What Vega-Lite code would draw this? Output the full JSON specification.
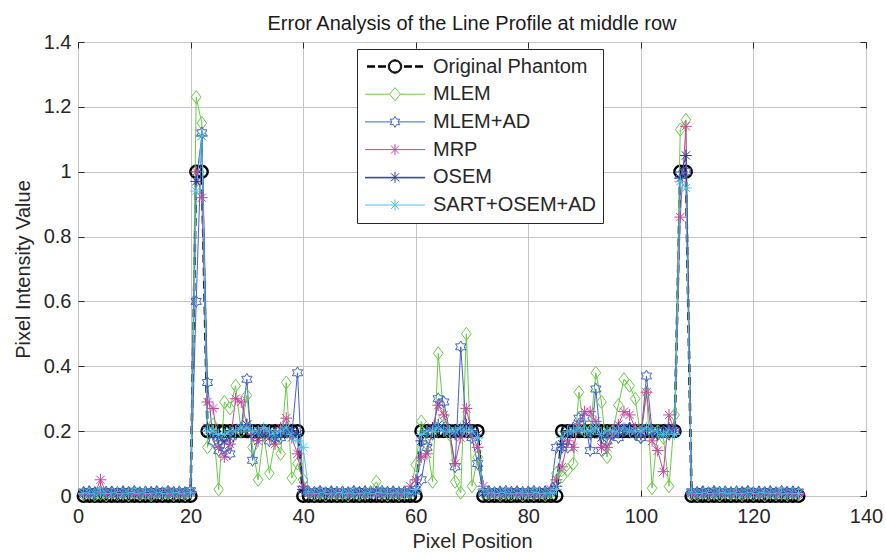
{
  "$schema": "https://vega.github.io/schema/vega-lite/v6.json",
  "width": 788,
  "height": 454,
  "autosize": {"type": "none"},
  "padding": {"left": 78, "top": 42, "right": 20, "bottom": 60},
  "background": "white",
  "title": {"text": "Error Analysis of the Line Profile at middle row", "fontSize": 20, "fontWeight": "normal", "font": "Liberation Sans", "color": "#1a1a1a", "offset": -2, "anchor": "middle"},
  "config": {
    "font": "Liberation Sans",
    "view": {"stroke": "#262626", "strokeWidth": 1},
    "axis": {"labelFontSize": 20, "titleFontSize": 20, "titleFontWeight": "normal", "labelColor": "#262626", "titleColor": "#262626", "gridColor": "#c4c4c4", "gridOpacity": 1, "gridWidth": 1, "tickColor": "#262626", "tickSize": -6, "domain": false, "labelFlush": false, "labelFont": "Liberation Sans", "titleFont": "Liberation Sans"},
    "legend": {"orient": "none", "legendX": 279, "legendY": 7, "title": null, "direction": "vertical",
               "fillColor": "white", "strokeColor": "#262626", "padding": 6,
               "labelFontSize": 20, "labelColor": "#262626", "labelFont": "Liberation Sans", "labelLimit": 0,
               "symbolSize": 100, "symbolOffset": 22, "labelOffset": 28, "clipHeight": 23, "rowPadding": 4.7,
               "symbolOpacity": 1, "symbolStrokeWidth": 1}
  },
  "data": {"values": [
    {"x":1,"P":0,"M":0.004,"H":0.012,"R":0.006,"O":0.010,"S":0.008},
    {"x":2,"P":0,"M":0.009,"H":0.014,"R":0.004,"O":0.012,"S":0.010},
    {"x":3,"P":0,"M":0.003,"H":0.011,"R":0.008,"O":0.009,"S":0.007},
    {"x":4,"P":0,"M":0.007,"H":0.015,"R":0.050,"O":0.011,"S":0.012},
    {"x":5,"P":0,"M":0.002,"H":0.012,"R":0.010,"O":0.010,"S":0.009},
    {"x":6,"P":0,"M":0.010,"H":0.013,"R":0.005,"O":0.012,"S":0.008},
    {"x":7,"P":0,"M":0.005,"H":0.011,"R":0.007,"O":0.009,"S":0.010},
    {"x":8,"P":0,"M":0.008,"H":0.014,"R":0.004,"O":0.011,"S":0.007},
    {"x":9,"P":0,"M":0.003,"H":0.012,"R":0.009,"O":0.010,"S":0.009},
    {"x":10,"P":0,"M":0.009,"H":0.015,"R":0.006,"O":0.012,"S":0.011},
    {"x":11,"P":0,"M":0.004,"H":0.011,"R":0.005,"O":0.009,"S":0.008},
    {"x":12,"P":0,"M":0.007,"H":0.013,"R":0.008,"O":0.011,"S":0.010},
    {"x":13,"P":0,"M":0.002,"H":0.012,"R":0.004,"O":0.010,"S":0.007},
    {"x":14,"P":0,"M":0.010,"H":0.014,"R":0.007,"O":0.012,"S":0.009},
    {"x":15,"P":0,"M":0.005,"H":0.011,"R":0.006,"O":0.009,"S":0.010},
    {"x":16,"P":0,"M":0.008,"H":0.015,"R":0.009,"O":0.011,"S":0.008},
    {"x":17,"P":0,"M":0.003,"H":0.012,"R":0.005,"O":0.010,"S":0.009},
    {"x":18,"P":0,"M":0.009,"H":0.013,"R":0.008,"O":0.012,"S":0.011},
    {"x":19,"P":0,"M":0.004,"H":0.011,"R":0.006,"O":0.009,"S":0.008},
    {"x":20,"P":0,"M":0.012,"H":0.016,"R":0.010,"O":0.014,"S":0.012},
    {"x":21,"P":1,"M":1.23,"H":0.60,"R":1.00,"O":0.97,"S":0.94},
    {"x":22,"P":1,"M":1.15,"H":1.12,"R":0.92,"O":1.11,"S":1.11},
    {"x":23,"P":0.2,"M":0.15,"H":0.35,"R":0.29,"O":0.21,"S":0.20},
    {"x":24,"P":0.2,"M":0.22,"H":0.17,"R":0.27,"O":0.19,"S":0.20},
    {"x":25,"P":0.2,"M":0.02,"H":0.14,"R":0.15,"O":0.18,"S":0.19},
    {"x":26,"P":0.2,"M":0.29,"H":0.15,"R":0.12,"O":0.17,"S":0.19},
    {"x":27,"P":0.2,"M":0.27,"H":0.13,"R":0.16,"O":0.18,"S":0.20},
    {"x":28,"P":0.2,"M":0.34,"H":0.19,"R":0.30,"O":0.20,"S":0.20},
    {"x":29,"P":0.2,"M":0.20,"H":0.21,"R":0.29,"O":0.21,"S":0.21},
    {"x":30,"P":0.2,"M":0.31,"H":0.36,"R":0.22,"O":0.22,"S":0.21},
    {"x":31,"P":0.2,"M":0.15,"H":0.11,"R":0.19,"O":0.20,"S":0.20},
    {"x":32,"P":0.2,"M":0.05,"H":0.18,"R":0.17,"O":0.19,"S":0.20},
    {"x":33,"P":0.2,"M":0.19,"H":0.20,"R":0.20,"O":0.20,"S":0.21},
    {"x":34,"P":0.2,"M":0.07,"H":0.17,"R":0.18,"O":0.19,"S":0.20},
    {"x":35,"P":0.2,"M":0.17,"H":0.19,"R":0.16,"O":0.18,"S":0.19},
    {"x":36,"P":0.2,"M":0.13,"H":0.18,"R":0.21,"O":0.19,"S":0.20},
    {"x":37,"P":0.2,"M":0.35,"H":0.20,"R":0.24,"O":0.21,"S":0.21},
    {"x":38,"P":0.2,"M":0.055,"H":0.19,"R":0.18,"O":0.20,"S":0.19},
    {"x":39,"P":0.2,"M":0.10,"H":0.38,"R":0.13,"O":0.19,"S":0.17},
    {"x":40,"P":0,"M":0.05,"H":0.02,"R":0.03,"O":0.02,"S":0.15},
    {"x":41,"P":0,"M":0.010,"H":0.013,"R":0.008,"O":0.011,"S":0.012},
    {"x":42,"P":0,"M":0.004,"H":0.012,"R":0.006,"O":0.010,"S":0.009},
    {"x":43,"P":0,"M":0.008,"H":0.015,"R":0.005,"O":0.012,"S":0.008},
    {"x":44,"P":0,"M":0.003,"H":0.011,"R":0.009,"O":0.009,"S":0.010},
    {"x":45,"P":0,"M":0.009,"H":0.014,"R":0.004,"O":0.011,"S":0.007},
    {"x":46,"P":0,"M":0.005,"H":0.012,"R":0.007,"O":0.010,"S":0.009},
    {"x":47,"P":0,"M":0.007,"H":0.013,"R":0.006,"O":0.012,"S":0.011},
    {"x":48,"P":0,"M":0.002,"H":0.011,"R":0.008,"O":0.009,"S":0.008},
    {"x":49,"P":0,"M":0.010,"H":0.015,"R":0.005,"O":0.011,"S":0.010},
    {"x":50,"P":0,"M":0.004,"H":0.012,"R":0.007,"O":0.010,"S":0.007},
    {"x":51,"P":0,"M":0.008,"H":0.014,"R":0.004,"O":0.012,"S":0.009},
    {"x":52,"P":0,"M":0.012,"H":0.011,"R":0.009,"O":0.009,"S":0.010},
    {"x":53,"P":0,"M":0.044,"H":0.013,"R":0.006,"O":0.011,"S":0.008},
    {"x":54,"P":0,"M":0.006,"H":0.015,"R":0.005,"O":0.010,"S":0.011},
    {"x":55,"P":0,"M":0.003,"H":0.012,"R":0.008,"O":0.012,"S":0.009},
    {"x":56,"P":0,"M":0.009,"H":0.014,"R":0.006,"O":0.009,"S":0.008},
    {"x":57,"P":0,"M":0.004,"H":0.011,"R":0.007,"O":0.011,"S":0.010},
    {"x":58,"P":0,"M":0.008,"H":0.013,"R":0.005,"O":0.010,"S":0.009},
    {"x":59,"P":0,"M":0.010,"H":0.012,"R":0.030,"O":0.010,"S":0.010},
    {"x":60,"P":0,"M":0.096,"H":0.020,"R":0.050,"O":0.015,"S":0.020},
    {"x":61,"P":0.2,"M":0.23,"H":0.05,"R":0.12,"O":0.17,"S":0.19},
    {"x":62,"P":0.2,"M":0.16,"H":0.15,"R":0.13,"O":0.20,"S":0.20},
    {"x":63,"P":0.2,"M":0.044,"H":0.19,"R":0.21,"O":0.21,"S":0.20},
    {"x":64,"P":0.2,"M":0.44,"H":0.30,"R":0.28,"O":0.22,"S":0.21},
    {"x":65,"P":0.2,"M":0.245,"H":0.29,"R":0.25,"O":0.21,"S":0.20},
    {"x":66,"P":0.2,"M":0.19,"H":0.20,"R":0.20,"O":0.20,"S":0.20},
    {"x":67,"P":0.2,"M":0.044,"H":0.09,"R":0.10,"O":0.19,"S":0.20},
    {"x":68,"P":0.2,"M":0.01,"H":0.46,"R":0.18,"O":0.20,"S":0.21},
    {"x":69,"P":0.2,"M":0.50,"H":0.20,"R":0.27,"O":0.22,"S":0.20},
    {"x":70,"P":0.2,"M":0.03,"H":0.18,"R":0.19,"O":0.20,"S":0.20},
    {"x":71,"P":0.2,"M":0.12,"H":0.10,"R":0.15,"O":0.19,"S":0.18},
    {"x":72,"P":0,"M":0.010,"H":0.012,"R":0.030,"O":0.010,"S":0.020},
    {"x":73,"P":0,"M":0.005,"H":0.014,"R":0.008,"O":0.011,"S":0.009},
    {"x":74,"P":0,"M":0.009,"H":0.011,"R":0.005,"O":0.010,"S":0.010},
    {"x":75,"P":0,"M":0.003,"H":0.013,"R":0.007,"O":0.012,"S":0.008},
    {"x":76,"P":0,"M":0.007,"H":0.015,"R":0.004,"O":0.009,"S":0.011},
    {"x":77,"P":0,"M":0.004,"H":0.012,"R":0.009,"O":0.011,"S":0.009},
    {"x":78,"P":0,"M":0.010,"H":0.014,"R":0.006,"O":0.010,"S":0.007},
    {"x":79,"P":0,"M":0.002,"H":0.011,"R":0.005,"O":0.012,"S":0.010},
    {"x":80,"P":0,"M":0.008,"H":0.013,"R":0.008,"O":0.009,"S":0.008},
    {"x":81,"P":0,"M":0.005,"H":0.015,"R":0.006,"O":0.011,"S":0.009},
    {"x":82,"P":0,"M":0.009,"H":0.012,"R":0.004,"O":0.010,"S":0.011},
    {"x":83,"P":0,"M":0.003,"H":0.014,"R":0.007,"O":0.012,"S":0.008},
    {"x":84,"P":0,"M":0.010,"H":0.015,"R":0.020,"O":0.012,"S":0.010},
    {"x":85,"P":0,"M":0.070,"H":0.150,"R":0.050,"O":0.030,"S":0.020},
    {"x":86,"P":0.2,"M":0.06,"H":0.15,"R":0.09,"O":0.16,"S":0.18},
    {"x":87,"P":0.2,"M":0.08,"H":0.15,"R":0.17,"O":0.19,"S":0.20},
    {"x":88,"P":0.2,"M":0.10,"H":0.21,"R":0.15,"O":0.20,"S":0.20},
    {"x":89,"P":0.2,"M":0.32,"H":0.24,"R":0.22,"O":0.21,"S":0.21},
    {"x":90,"P":0.2,"M":0.20,"H":0.24,"R":0.26,"O":0.20,"S":0.20},
    {"x":91,"P":0.2,"M":0.20,"H":0.14,"R":0.26,"O":0.19,"S":0.20},
    {"x":92,"P":0.2,"M":0.38,"H":0.33,"R":0.23,"O":0.21,"S":0.21},
    {"x":93,"P":0.2,"M":0.29,"H":0.14,"R":0.15,"O":0.18,"S":0.19},
    {"x":94,"P":0.2,"M":0.12,"H":0.17,"R":0.15,"O":0.19,"S":0.20},
    {"x":95,"P":0.2,"M":0.20,"H":0.19,"R":0.19,"O":0.20,"S":0.20},
    {"x":96,"P":0.2,"M":0.28,"H":0.18,"R":0.22,"O":0.21,"S":0.20},
    {"x":97,"P":0.2,"M":0.36,"H":0.20,"R":0.26,"O":0.20,"S":0.21},
    {"x":98,"P":0.2,"M":0.34,"H":0.21,"R":0.25,"O":0.21,"S":0.20},
    {"x":99,"P":0.2,"M":0.30,"H":0.19,"R":0.21,"O":0.20,"S":0.20},
    {"x":100,"P":0.2,"M":0.18,"H":0.18,"R":0.19,"O":0.19,"S":0.20},
    {"x":101,"P":0.2,"M":0.32,"H":0.37,"R":0.32,"O":0.21,"S":0.21},
    {"x":102,"P":0.2,"M":0.024,"H":0.20,"R":0.17,"O":0.20,"S":0.20},
    {"x":103,"P":0.2,"M":0.20,"H":0.19,"R":0.14,"O":0.19,"S":0.20},
    {"x":104,"P":0.2,"M":0.18,"H":0.20,"R":0.075,"O":0.20,"S":0.19},
    {"x":105,"P":0.2,"M":0.03,"H":0.19,"R":0.25,"O":0.21,"S":0.20},
    {"x":106,"P":0.2,"M":0.25,"H":0.20,"R":0.20,"O":0.20,"S":0.19},
    {"x":107,"P":1,"M":1.13,"H":0.99,"R":0.86,"O":0.98,"S":0.97},
    {"x":108,"P":1,"M":1.16,"H":1.00,"R":1.14,"O":1.05,"S":0.95},
    {"x":109,"P":0,"M":0.006,"H":0.013,"R":0.008,"O":0.011,"S":0.012},
    {"x":110,"P":0,"M":0.003,"H":0.012,"R":0.005,"O":0.010,"S":0.009},
    {"x":111,"P":0,"M":0.009,"H":0.014,"R":0.007,"O":0.012,"S":0.008},
    {"x":112,"P":0,"M":0.004,"H":0.011,"R":0.006,"O":0.009,"S":0.010},
    {"x":113,"P":0,"M":0.008,"H":0.015,"R":0.004,"O":0.011,"S":0.007},
    {"x":114,"P":0,"M":0.002,"H":0.012,"R":0.009,"O":0.010,"S":0.009},
    {"x":115,"P":0,"M":0.010,"H":0.013,"R":0.005,"O":0.012,"S":0.011},
    {"x":116,"P":0,"M":0.005,"H":0.011,"R":0.008,"O":0.009,"S":0.008},
    {"x":117,"P":0,"M":0.007,"H":0.014,"R":0.006,"O":0.011,"S":0.010},
    {"x":118,"P":0,"M":0.003,"H":0.012,"R":0.007,"O":0.010,"S":0.007},
    {"x":119,"P":0,"M":0.009,"H":0.015,"R":0.004,"O":0.012,"S":0.009},
    {"x":120,"P":0,"M":0.004,"H":0.011,"R":0.008,"O":0.009,"S":0.010},
    {"x":121,"P":0,"M":0.008,"H":0.013,"R":0.005,"O":0.011,"S":0.008},
    {"x":122,"P":0,"M":0.002,"H":0.012,"R":0.007,"O":0.010,"S":0.011},
    {"x":123,"P":0,"M":0.010,"H":0.014,"R":0.006,"O":0.012,"S":0.009},
    {"x":124,"P":0,"M":0.005,"H":0.011,"R":0.009,"O":0.009,"S":0.008},
    {"x":125,"P":0,"M":0.007,"H":0.015,"R":0.004,"O":0.011,"S":0.010},
    {"x":126,"P":0,"M":0.003,"H":0.012,"R":0.007,"O":0.010,"S":0.007},
    {"x":127,"P":0,"M":0.009,"H":0.013,"R":0.006,"O":0.012,"S":0.009},
    {"x":128,"P":0,"M":0.004,"H":0.012,"R":0.005,"O":0.010,"S":0.008}
  ]},
  "transform": [{"fold": ["P", "M", "H", "R", "O", "S"], "as": ["s", "v"]}],
  "resolve": {"axis": {"x": "independent", "y": "independent"}, "scale": {"shape": "independent", "color": "independent"}},
  "layer": [
    {
      "transform": [{"filter": "datum.s === 'P'"}],
      "mark": {"type": "line", "color": "#000000", "strokeWidth": 2.5, "strokeDash": [8, 5]},
      "encoding": {
        "x": {"field": "x", "type": "quantitative", "scale": {"domain": [0, 140], "nice": false, "zero": false},
              "axis": {"orient": "bottom", "values": [0, 20, 40, 60, 80, 100, 120, 140], "grid": true, "title": "Pixel Position", "labelPadding": 16, "titlePadding": 5}},
        "y": {"field": "v", "type": "quantitative", "scale": {"domain": [0, 1.4], "nice": false},
              "axis": {"orient": "left", "values": [0, 0.2, 0.4, 0.6, 0.8, 1, 1.2, 1.4], "grid": true, "format": ".1~f", "title": "Pixel Intensity Value", "labelPadding": 13, "titlePadding": 10}}
      }
    },
    {
      "transform": [{"filter": "datum.s === 'P'"}],
      "mark": {"type": "point", "shape": "circle", "filled": false, "color": "#000000", "strokeWidth": 2.4, "size": 140, "opacity": 1},
      "encoding": {
        "x": {"field": "x", "type": "quantitative", "axis": null},
        "y": {"field": "v", "type": "quantitative", "axis": null}
      }
    },
    {
      "transform": [{"filter": "datum.s !== 'P'"}],
      "mark": {"type": "line", "strokeWidth": 1},
      "encoding": {
        "x": {"field": "x", "type": "quantitative", "axis": null},
        "y": {"field": "v", "type": "quantitative", "axis": null},
        "color": {"field": "s", "type": "nominal", "legend": null,
                  "scale": {"domain": ["P", "M", "H", "R", "O", "S"], "range": ["#000000", "#66cc44", "#3f63c8", "#c9449c", "#2c3c9c", "#4fc6e4"]}}
      }
    },
    {
      "transform": [{"filter": "datum.s !== 'P'"}],
      "mark": {"type": "point", "filled": false, "strokeWidth": 1, "size": 140, "opacity": 1},
      "encoding": {
        "x": {"field": "x", "type": "quantitative",
              "axis": {"orient": "top", "values": [0, 20, 40, 60, 80, 100, 120, 140], "labels": false, "grid": false, "title": null}},
        "y": {"field": "v", "type": "quantitative",
              "axis": {"orient": "right", "values": [0, 0.2, 0.4, 0.6, 0.8, 1, 1.2, 1.4], "labels": false, "grid": false, "title": null}},
        "shape": {"field": "s", "type": "nominal", "legend": null,
                  "scale": {"domain": ["M", "H", "R", "O", "S"],
                            "range": ["M0,-1.1L0.82,0L0,1.1L-0.82,0Z",
                                      "M0,-1L0.289,-0.5L0.866,-0.5L0.577,0L0.866,0.5L0.289,0.5L0,1L-0.289,0.5L-0.866,0.5L-0.577,0L-0.866,-0.5L-0.289,-0.5Z",
                                      "M-1,0L1,0M0,-1L0,1M-0.7,-0.7L0.7,0.7M-0.7,0.7L0.7,-0.7",
                                      "M-1,0L1,0M0,-1L0,1M-0.7,-0.7L0.7,0.7M-0.7,0.7L0.7,-0.7",
                                      "M-1,0L1,0M0,-1L0,1M-0.7,-0.7L0.7,0.7M-0.7,0.7L0.7,-0.7"]}},
        "color": {"field": "s", "type": "nominal", "legend": null,
                  "scale": {"domain": ["P", "M", "H", "R", "O", "S"], "range": ["#000000", "#66cc44", "#3f63c8", "#c9449c", "#2c3c9c", "#4fc6e4"]}}
      }
    },
    {
      "transform": [{"filter": "datum.x === 1"}],
      "mark": {"type": "point", "filled": false, "strokeWidth": 1, "opacity": 0},
      "encoding": {
        "x": {"field": "x", "type": "quantitative", "axis": null},
        "y": {"field": "v", "type": "quantitative", "axis": null},
        "color": {"field": "s", "type": "nominal",
                  "scale": {"domain": ["P", "M", "H", "R", "O", "S"], "range": ["#000000", "#66cc44", "#3f63c8", "#c9449c", "#2c3c9c", "#4fc6e4"]},
                  "legend": {"title": null, "labelExpr": "datum.value === 'P' ? 'Original Phantom' : datum.value === 'M' ? 'MLEM' : datum.value === 'H' ? 'MLEM+AD' : datum.value === 'R' ? 'MRP' : datum.value === 'O' ? 'OSEM' : 'SART+OSEM+AD'"}},
        "shape": {"field": "s", "type": "nominal",
                  "scale": {"domain": ["P", "M", "H", "R", "O", "S"],
                            "range": ["M-5.6,0L-4,0M-3.4,0L-1.8,0M1.8,0L3.4,0M4,0L5.6,0M-5.6,-0.15L-4,-0.15M-3.4,-0.15L-1.8,-0.15M1.8,-0.15L3.4,-0.15M4,-0.15L5.6,-0.15M-5.6,0.15L-4,0.15M-3.4,0.15L-1.8,0.15M1.8,0.15L3.4,0.15M4,0.15L5.6,0.15M1.1,0A1.1,1.1,0,1,1,-1.1,0A1.1,1.1,0,1,1,1.1,0M1.22,0A1.22,1.22,0,1,1,-1.22,0A1.22,1.22,0,1,1,1.22,0M1.34,0A1.34,1.34,0,1,1,-1.34,0A1.34,1.34,0,1,1,1.34,0",
                                      "M-6,0L-1.1,0M1.1,0L6,0M0,-1.3L1.1,0L0,1.3L-1.1,0Z",
                                      "M-6,0L-0.63,0M0.63,0L6,0M0,-1.1L0.32,-0.55L0.95,-0.55L0.63,0L0.95,0.55L0.32,0.55L0,1.1L-0.32,0.55L-0.95,0.55L-0.63,0L-0.95,-0.55L-0.32,-0.55Z",
                                      "M-6,0L6,0M0,-1.1L0,1.1M-0.8,-0.8L0.8,0.8M-0.8,0.8L0.8,-0.8",
                                      "M-6,0L6,0M-6,0.12L6,0.12M0,-1.1L0,1.1M-0.8,-0.8L0.8,0.8M-0.8,0.8L0.8,-0.8",
                                      "M-6,0L6,0M0,-1.1L0,1.1M-0.8,-0.8L0.8,0.8M-0.8,0.8L0.8,-0.8"]},
                  "legend": {"title": null, "labelExpr": "datum.value === 'P' ? 'Original Phantom' : datum.value === 'M' ? 'MLEM' : datum.value === 'H' ? 'MLEM+AD' : datum.value === 'R' ? 'MRP' : datum.value === 'O' ? 'OSEM' : 'SART+OSEM+AD'"}}
      }
    }
  ]
}
